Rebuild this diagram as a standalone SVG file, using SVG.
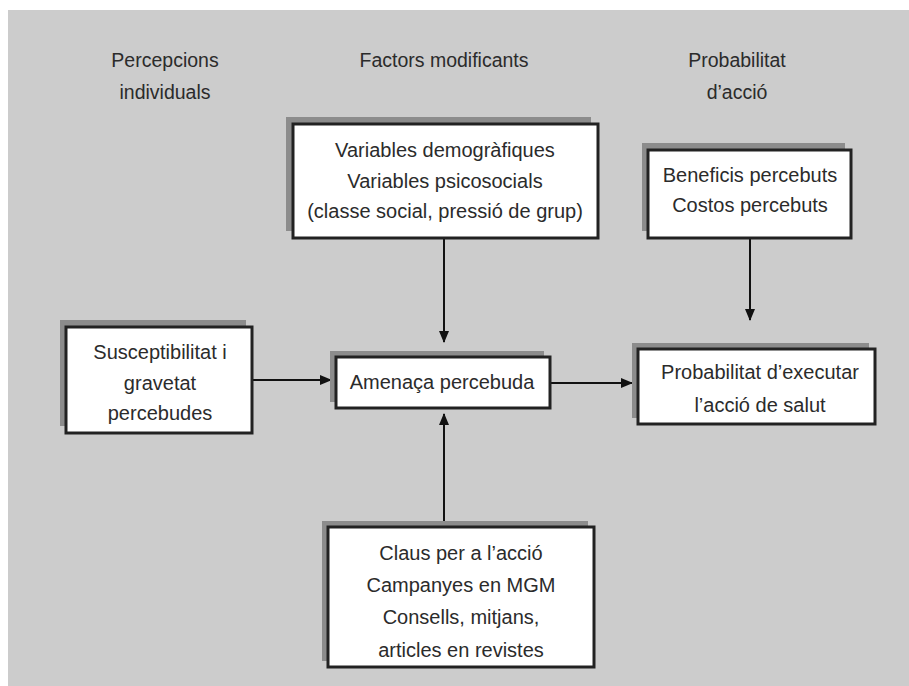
<svg xmlns="http://www.w3.org/2000/svg" width="909" height="686" viewBox="0 0 909 686">
<style>
.hdr{font-family:"Liberation Sans",Arial,sans-serif;font-size:19.5px;fill:#2b2b2b;text-anchor:middle}
.txt{font-family:"Liberation Sans",Arial,sans-serif;font-size:20px;fill:#2b2b2b;text-anchor:middle}
.shadow{fill:#8c8c8c}
.box{fill:#fff;stroke:#222;stroke-width:3}
.conn{stroke:#111;stroke-width:2;fill:none}
</style>
<defs>
<marker id="arr" viewBox="0 0 12 10" refX="11" refY="5" markerWidth="12" markerHeight="10" markerUnits="userSpaceOnUse" orient="auto">
<path d="M0,0 L12,5 L0,10 Z" fill="#111"/>
</marker>
</defs>
<rect x="0" y="0" width="909" height="686" fill="#fff"/>
<rect x="8" y="10" width="901" height="676" fill="#cccccc"/>
<g id="headers">
<text class="hdr" x="165" y="67">Percepcions</text>
<text class="hdr" x="165" y="99">individuals</text>
<text class="hdr" x="444" y="67">Factors modificants</text>
<text class="hdr" x="737" y="67">Probabilitat</text>
<text class="hdr" x="737" y="99">d’acció</text>
</g>
<g id="connectors">
<line class="conn" x1="444" y1="238" x2="444" y2="342" marker-end="url(#arr)"/>
<line class="conn" x1="750" y1="238" x2="750" y2="320" marker-end="url(#arr)"/>
<line class="conn" x1="252" y1="380" x2="331" y2="380" marker-end="url(#arr)"/>
<line class="conn" x1="550" y1="383" x2="632" y2="383" marker-end="url(#arr)"/>
<line class="conn" x1="444" y1="527" x2="444" y2="414" marker-end="url(#arr)"/>
</g>
<g id="node-factors">
<rect class="shadow" x="286" y="117" width="305" height="114"/>
<rect class="box" x="293" y="124" width="305" height="114"/>
<text class="txt" x="445" y="157">Variables demogràfiques</text>
<text class="txt" x="445" y="188">Variables psicosocials</text>
<text class="txt" x="445" y="218">(classe social, pressió de grup)</text>
</g>
<g id="node-beneficis">
<rect class="shadow" x="642" y="143" width="203" height="88"/>
<rect class="box" x="648" y="150" width="203" height="88"/>
<text class="txt" x="750" y="182">Beneficis percebuts</text>
<text class="txt" x="750" y="212">Costos percebuts</text>
</g>
<g id="node-susceptibilitat">
<rect class="shadow" x="60" y="320" width="186" height="106"/>
<rect class="box" x="66" y="327" width="186" height="106"/>
<text class="txt" x="160" y="359">Susceptibilitat i</text>
<text class="txt" x="160" y="390">gravetat</text>
<text class="txt" x="160" y="420">percebudes</text>
</g>
<g id="node-amenaca">
<rect class="shadow" x="330" y="351" width="214" height="51"/>
<rect class="box" x="336" y="357" width="214" height="51"/>
<text class="txt" x="442" y="389">Amenaça percebuda</text>
</g>
<g id="node-probabilitat">
<rect class="shadow" x="632" y="343" width="237" height="75"/>
<rect class="box" x="638" y="349" width="237" height="75"/>
<text class="txt" x="760" y="379">Probabilitat d’executar</text>
<text class="txt" x="760" y="412">l’acció de salut</text>
</g>
<g id="node-claus">
<rect class="shadow" x="322" y="521" width="266" height="140"/>
<rect class="box" x="328" y="527" width="266" height="140"/>
<text class="txt" x="461" y="560">Claus per a l’acció</text>
<text class="txt" x="461" y="592">Campanyes en MGM</text>
<text class="txt" x="461" y="624">Consells, mitjans,</text>
<text class="txt" x="461" y="657">articles en revistes</text>
</g>
</svg>
